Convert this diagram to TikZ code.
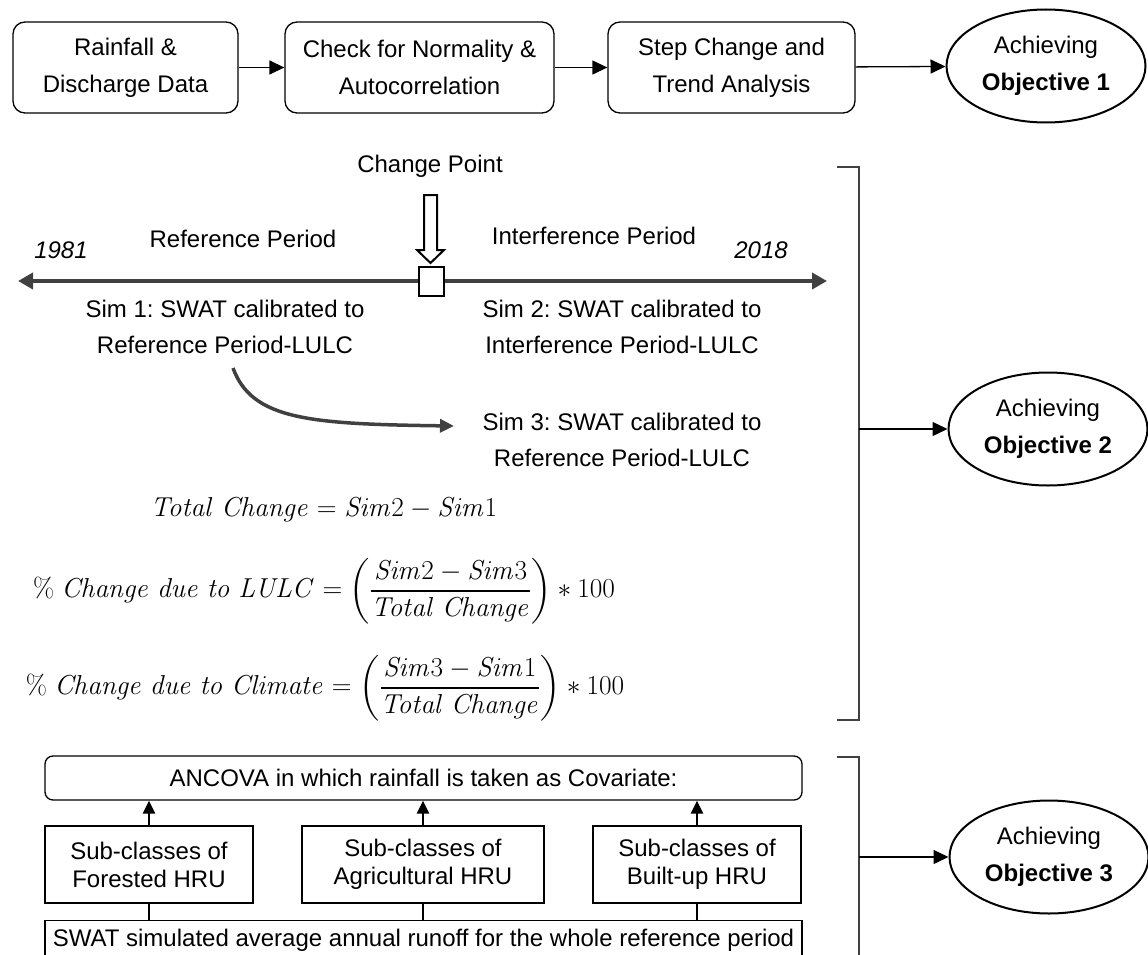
\documentclass[tikz,border=0pt]{standalone}
\usepackage[no-math]{fontspec}
\setmainfont{Liberation Sans}
\usepackage{amsmath}
\usepackage{graphicx}
\usepackage{xcolor}
\usetikzlibrary{shapes.geometric,arrows.meta}
\definecolor{lineGray}{RGB}{64,64,64}
\frenchspacing
\newcommand{\bigeq}[1]{\scalebox{1.1}{$#1$}}

\begin{document}
\begin{tikzpicture}[
		x=1pt, y=-1pt,
		>={Triangle[length=15pt,width=14pt]},
		box/.style={
			draw=black,
			line width=1.3pt,
			rectangle,
			rounded corners=12pt,
			minimum height=91pt,
			inner sep=0pt,
			align=center
		},
		goal/.style={
			draw=black,
			line width=2pt,
			ellipse,
			minimum width=199pt,
			minimum height=113pt,
			inner sep=0pt,
			align=center
		},
		hru/.style={
			draw=black,
			line width=1.3pt,
			rectangle,
			minimum height=77pt,
			inner sep=0pt,
			align=center,
			font=\fontsize{24}{28}\selectfont
		},
		txt/.style={align=center, font=\fontsize{24}{36}\selectfont},
		formula/.style={font=\fontsize{24}{30}\selectfont},
		link/.style={->, line width=1.3pt},
		uplink/.style={-{Triangle[length=13pt,width=12pt]}, line width=2.5pt},
		bracketline/.style={draw=lineGray, line width=2pt},
		every node/.style={font=\fontsize{24}{37}\selectfont}
		]
		\clip (0,0) rectangle (1148,955);
		
		% Objective 1 chain
		\node[box, minimum width=225pt] (data) at (125.5,67.5) {Rainfall \&\\Discharge Data};
		\node[box, minimum width=269pt] (check) at (419.5,67.5) {Check for Normality \&\\Autocorrelation};
		\node[box, minimum width=247pt] (trend) at (731.5,67.5) {Step Change and\\Trend Analysis};
		\node[goal] (obj1) at (1046,66) {Achieving\\\textbf{Objective 1}};
		\draw[link] (data) -- (check);
		\draw[link] (check) -- (trend);
		\draw[link] (trend) -- (obj1);
		
		% Time line with change point
		\coordinate (tl) at (18,281);
		\coordinate (tr) at (827,281);
		\draw[lineGray, line width=4pt, {Triangle[length=15pt,width=16pt]}-{Triangle[length=15pt,width=16pt]}] (tl) -- (tr);
		\node[draw=black, line width=2pt, fill=white, minimum width=25pt, minimum height=29pt, inner sep=0pt] (cp) at (431,281) {};
		\node (cplabel) at (430,166) {Change Point};
		\draw[line width=2pt, fill=white] (424,195) -- (437,195) -- (437,250) -- (444,250) -- (430.5,263) -- (417,250) -- (424,250) -- cycle;
		
		\node[font=\fontsize{24}{37}\selectfont\itshape] (y1) at (61,250) {1981};
		\node[font=\fontsize{24}{37}\selectfont\itshape] (y2) at (761,250) {2018};
		\node (refp) at (243,239) {Reference Period};
		\node (intp) at (594,236) {Interference Period};
		
		% Simulations
		\node[txt] (sim1) at (225,327) {Sim 1: SWAT calibrated to\\Reference Period-LULC};
		\node[txt] (sim2) at (622,327) {Sim 2: SWAT calibrated to\\Interference Period-LULC};
		\node[txt] (sim3) at (622,440) {Sim 3: SWAT calibrated to\\Reference Period-LULC};
		\coordinate (c1) at (233,368);
		\coordinate (c2) at (454,426);
		\draw[lineGray, line width=3.5pt, -{Triangle[length=14pt,width=13pt]}] (c1) .. controls (252,420) and (310,424) .. (c2);
		
		% Formulas
		\node[formula] (f1) at (324,510) {\bigeq{\mathit{Total\ Change}=\mathit{Sim}2-\mathit{Sim}1}};
		\node[formula] (f2) at (324,591) {\bigeq{\%\ \mathit{Change\ due\ to\ LULC}=\left(\dfrac{\mathit{Sim}2-\mathit{Sim}3}{\mathit{Total\ Change}}\right)\ast 100}};
		\node[formula] (f3) at (325,688) {\bigeq{\%\ \mathit{Change\ due\ to\ Climate}=\left(\dfrac{\mathit{Sim}3-\mathit{Sim}1}{\mathit{Total\ Change}}\right)\ast 100}};
		
		% Objective 2 bracket
		\node[goal] (obj2) at (1048,429) {Achieving\\\textbf{Objective 2}};
		\draw[bracketline] (837,167) -- (859,167) -- (859,720) -- (837,720);
		\coordinate (j2) at (859,429);
		\draw[link] (j2) -- (obj2);
		
		% ANCOVA part
		\node[draw=black, line width=1.3pt, rounded corners=8pt, minimum width=757pt, minimum height=44pt, inner sep=0pt] (ancova) at (423.5,778) {ANCOVA in which rainfall is taken as Covariate:};
		\node[hru, minimum width=208pt] (forest) at (149,864.5) {Sub-classes of\\Forested HRU};
		\node[hru, minimum width=242pt] (agri) at (423,864.5) {Sub-classes of\\Agricultural HRU};
		\node[hru, minimum width=208pt] (built) at (697,864.5) {Sub-classes of\\Built-up HRU};
		\node[draw=black, line width=1.3pt, minimum width=757pt, minimum height=40pt, inner sep=0pt, anchor=north] (runoff) at (423.5,920) {SWAT simulated average annual runoff for the whole reference period};
		\foreach \hru in {forest,agri,built} {
			\draw[uplink] (\hru.north) -- (\hru.north |- ancova.south);
			\draw[line width=2.5pt] (\hru.south) -- (\hru.south |- runoff.north);
		}
		
		% Objective 3 bracket
		\node[goal] (obj3) at (1049,857) {Achieving\\\textbf{Objective 3}};
		\draw[bracketline] (837,757) -- (859,757) -- (859,970);
		\coordinate (j3) at (859,857);
		\draw[link] (j3) -- (obj3);
	\end{tikzpicture}
\end{document}
